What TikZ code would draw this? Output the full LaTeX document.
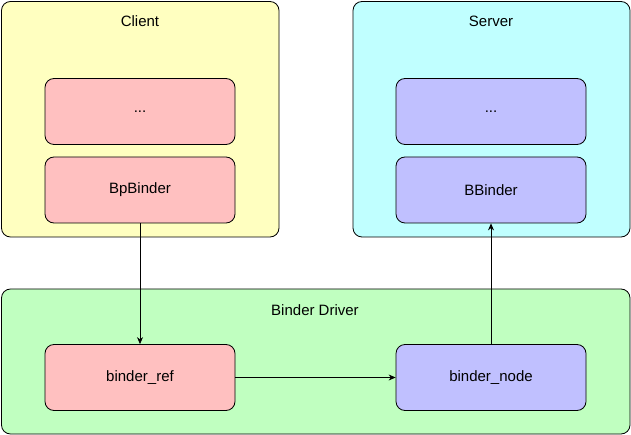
\documentclass[tikz,border=0pt]{standalone}
\usepackage{fontspec}
\setmainfont{Liberation Sans}
\usetikzlibrary{arrows.meta}
\definecolor{cyel}{HTML}{FFFFC0}
\definecolor{ccyan}{HTML}{C0FFFF}
\definecolor{cgreen}{HTML}{C0FFC0}
\definecolor{cpink}{HTML}{FFC0C0}
\definecolor{cblue}{HTML}{C0C0FF}
\begin{document}
\begin{tikzpicture}[x=1pt,y=-1pt,
  outerbox/.style={draw=black, line width=0.8pt, rounded corners=9pt},
  innerbox/.style={draw=black, line width=0.8pt, rounded corners=9pt, minimum width=190pt, minimum height=66pt, inner sep=0pt, font=\fontsize{15}{18}\selectfont},
  lbl/.style={font=\fontsize{15}{18}\selectfont},
  conn/.style={draw=black, line width=0.8pt, -{Stealth[length=7pt,width=6pt]}}]
\useasboundingbox (0,0) rectangle (631,435);
% outer containers
\draw[outerbox, fill=cyel] (1.5,1.5) rectangle (279,237);
\draw[outerbox, fill=ccyan] (353,1.5) rectangle (630,237);
\draw[outerbox, fill=cgreen] (1.5,289) rectangle (630,434);
\node[lbl] (client) at (140,21) {Client};
\node[lbl] (server) at (491,21) {Server};
\node[lbl] (driver) at (315,310) {Binder Driver};
% inner boxes
\node[innerbox, fill=cpink] (cdots) at (140,111.5) {...};
\node[innerbox, fill=cpink] (bp) at (140,190) {BpBinder};
\node[innerbox, fill=cblue] (sdots) at (491,111.5) {...};
\node[innerbox, fill=cblue] (bb) at (491,190) {BBinder};
\node[innerbox, fill=cpink] (ref) at (140,377.5) {binder\_ref};
\node[innerbox, fill=cblue] (bnode) at (491,377.5) {binder\_node};
% connectors
\draw[conn] (bp.south) -- (ref.north);
\draw[conn] (ref.east) -- (bnode.west);
\draw[conn] (bnode.north) -- (bb.south);
\end{tikzpicture}
\end{document}
